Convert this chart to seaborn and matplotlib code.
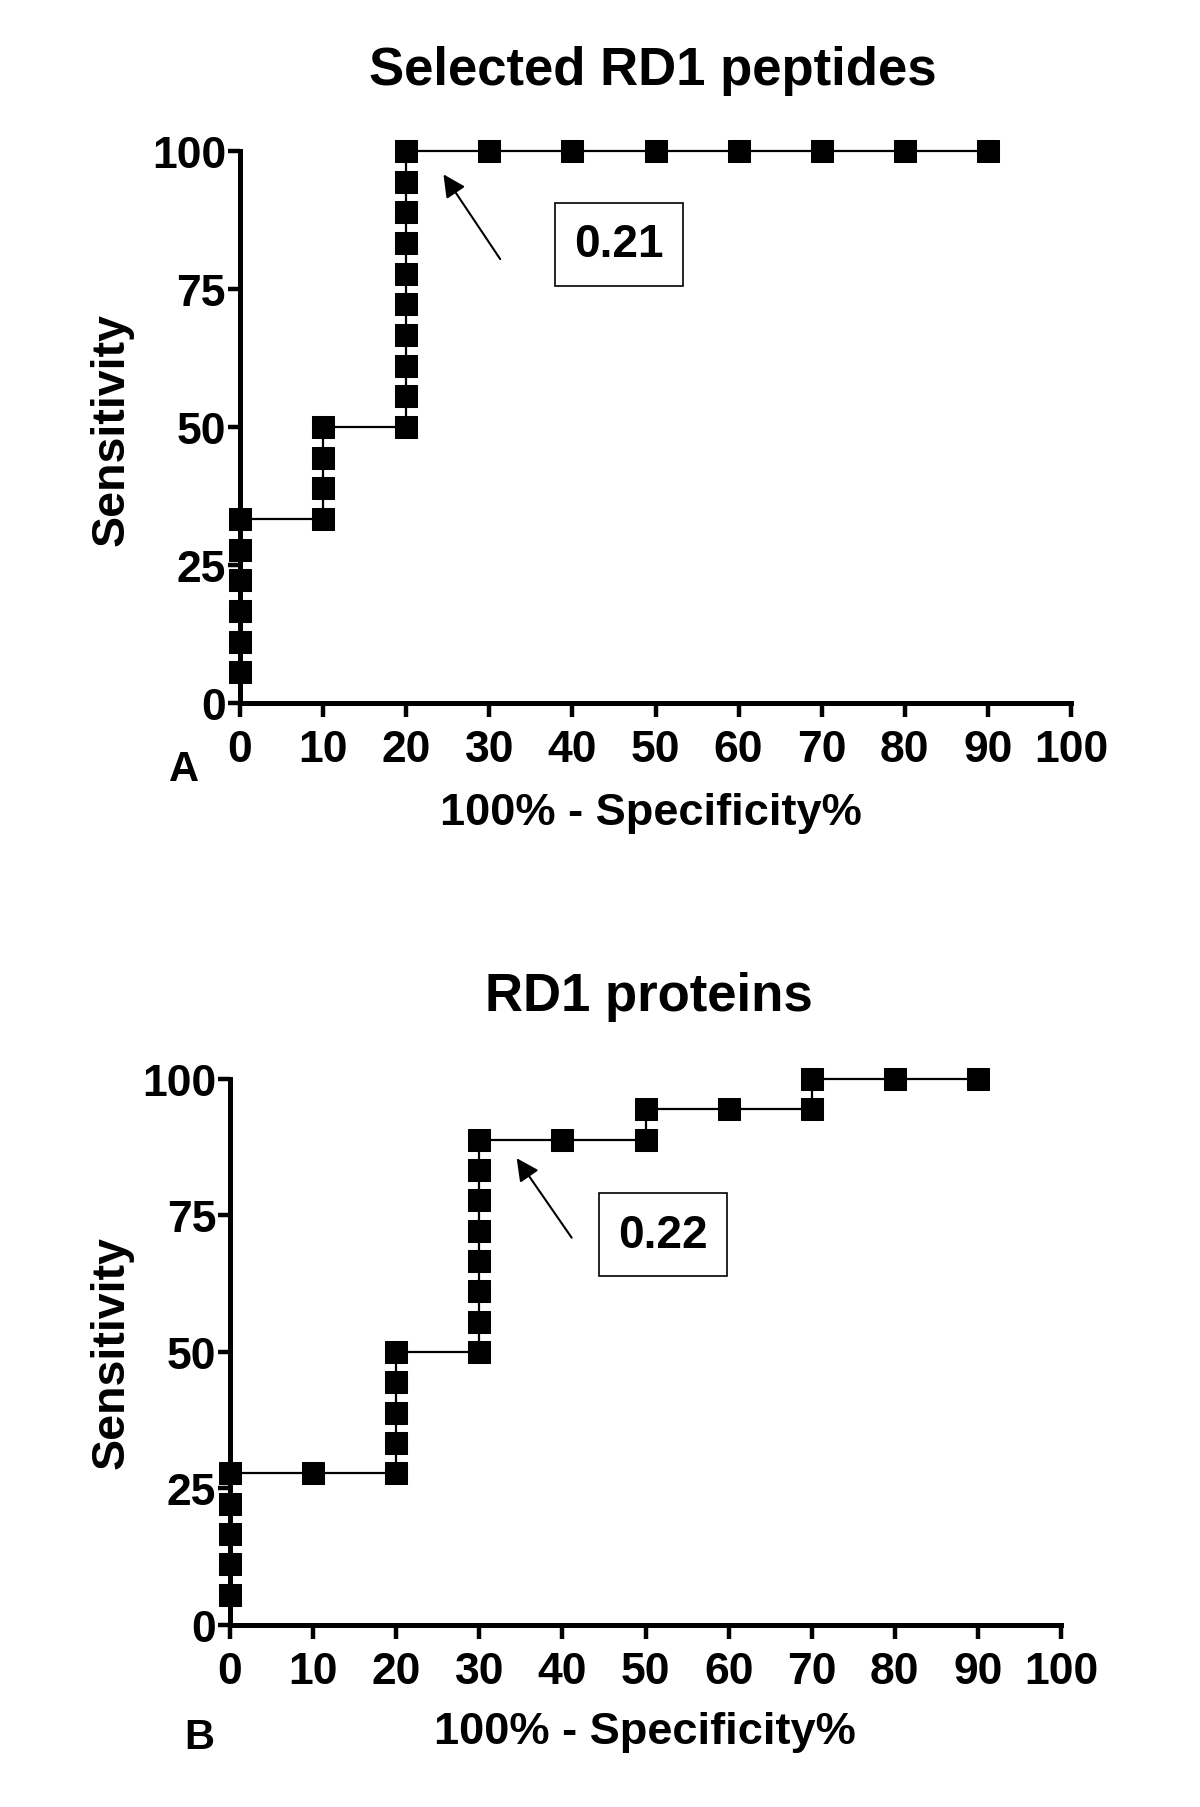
import numpy as np
import pandas as pd
import seaborn as sns
import matplotlib.pyplot as plt

# ROC points (100% - specificity, sensitivity)
pep_fpr = [0, 0, 0, 0, 0, 0, 10, 10, 10, 10,
           20, 20, 20, 20, 20, 20, 20, 20, 20, 20,
           30, 40, 50, 60, 70, 80, 90]
pep_sens = [5.56, 11.11, 16.67, 22.22, 27.78, 33.33, 33.33, 38.89, 44.44, 50.0,
            50.0, 55.56, 61.11, 66.67, 72.22, 77.78, 83.33, 88.89, 94.44, 100.0,
            100.0, 100.0, 100.0, 100.0, 100.0, 100.0, 100.0]

prot_fpr = [0, 0, 0, 0, 0, 10, 20, 20, 20, 20, 20,
            30, 30, 30, 30, 30, 30, 30, 30,
            40, 50, 50, 60, 70, 70, 80, 90]
prot_sens = [5.56, 11.11, 16.67, 22.22, 27.78, 27.78, 27.78, 33.33, 38.89, 44.44, 50.0,
             50.0, 55.56, 61.11, 66.67, 72.22, 77.78, 83.33, 88.89,
             88.89, 88.89, 94.44, 94.44, 94.44, 100.0, 100.0, 100.0]

titles = ['Selected RD1 peptides', 'RD1 proteins']
cutoffs = ['0.21', '0.22']
panel_letters = ['A', 'B']
xticks = list(range(0, 101, 10))
yticks = [0, 25, 50, 75, 100]

sns.set_style('ticks')
plt.rcParams['font.family'] = ['Liberation Sans', 'DejaVu Sans']
plt.rcParams['font.weight'] = 'bold'
for k in ['text.color', 'axes.labelcolor', 'xtick.color', 'ytick.color', 'axes.edgecolor']:
    plt.rcParams[k] = 'black'

fig = plt.figure(figsize=(12, 18.08), dpi=100)
ax_a = fig.add_axes([0.200, 0.6106, 0.6925, 0.3053])
ax_b = fig.add_axes([0.1917, 0.1007, 0.6925, 0.3020])

panels = [
    (ax_a, pd.DataFrame({'fpr': pep_fpr, 'sens': pep_sens}), (24.3, 96.2), (31.5, 80.0), (45.6, 83.1)),
    (ax_b, pd.DataFrame({'fpr': prot_fpr, 'sens': prot_sens}), (34.3, 85.9), (41.3, 70.5), (52.1, 71.5)),
]

for i, (ax, df, head, tail, boxpos) in enumerate(panels):
    sns.lineplot(data=df, x='fpr', y='sens', ax=ax, sort=False, estimator=None,
                 color='black', lw=1.6, marker='s', markersize=16.5,
                 markeredgecolor='black', markerfacecolor='black', clip_on=False)
    ax.set_xlim(0, 100)
    ax.set_ylim(0, 100)
    ax.set_xticks(xticks)
    ax.set_yticks(yticks)
    ax.set_xlabel('')
    ax.set_ylabel('')
    sns.despine(ax=ax)
    for s in ['left', 'bottom']:
        ax.spines[s].set_linewidth(3.6)
    ax.tick_params(axis='x', length=10, width=3.2, pad=9, labelsize=32)
    ax.tick_params(axis='y', length=9, width=3.2, pad=1, labelsize=32)
    for lab in ax.get_xticklabels() + ax.get_yticklabels():
        lab.set_fontweight('bold')

    ax.annotate('', xy=head, xytext=tail,
                arrowprops=dict(arrowstyle='-|>', lw=1.5, color='black', mutation_scale=34))
    ax.text(boxpos[0], boxpos[1], cutoffs[i], fontsize=33, fontweight='bold',
            ha='center', va='center',
            bbox=dict(boxstyle='square,pad=0.42', fc='white', ec='black', lw=1.2))

# titles, axis labels and panel letters
fig.text(0.544, 0.9607, titles[0], fontsize=38, fontweight='bold', ha='center', va='center')
fig.text(0.541, 0.4486, titles[1], fontsize=38, fontweight='bold', ha='center', va='center')
fig.text(0.0933, 0.7627, 'Sensitivity', fontsize=33.5, fontweight='bold', rotation=90, ha='center', va='center')
fig.text(0.0933, 0.2522, 'Sensitivity', fontsize=33.5, fontweight='bold', rotation=90, ha='center', va='center')
fig.text(0.5425, 0.5498, '100% - Specificity%', fontsize=32.5, fontweight='bold', ha='center', va='center')
fig.text(0.5377, 0.0415, '100% - Specificity%', fontsize=32.5, fontweight='bold', ha='center', va='center')
fig.text(0.153, 0.574, panel_letters[0], fontsize=30, fontweight='bold', ha='center', va='center')
fig.text(0.166, 0.0387, panel_letters[1], fontsize=30, fontweight='bold', ha='center', va='center')

fig.savefig('out.png', dpi=100)
